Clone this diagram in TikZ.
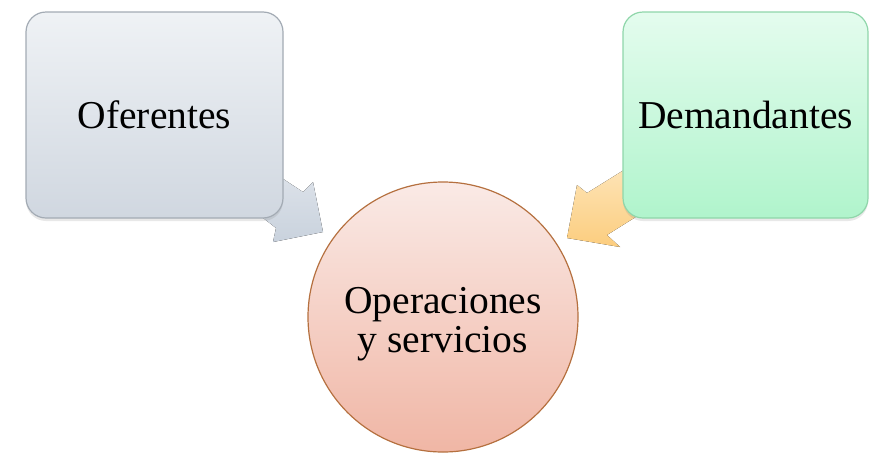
\documentclass[tikz,border=0pt]{standalone}
\usepackage{fontspec}
\setmainfont{Liberation Serif}
\usetikzlibrary{shadows}
\definecolor{grayTop}{HTML}{EFF2F5}
\definecolor{grayBot}{HTML}{D0D7E0}
\definecolor{grayLine}{HTML}{A3ABB4}
\definecolor{greenTop}{HTML}{E4FCEE}
\definecolor{greenBot}{HTML}{B0F4CC}
\definecolor{greenLine}{HTML}{8FD6AA}
\definecolor{pinkTop}{HTML}{FAEAE6}
\definecolor{pinkBot}{HTML}{F0B6A5}
\definecolor{pinkLine}{HTML}{B5703F}
\definecolor{arrGrayTop}{HTML}{DFE4EB}
\definecolor{arrGrayBot}{HTML}{C9D2DD}
\definecolor{arrYelTop}{HTML}{FDE6BC}
\definecolor{arrYelBot}{HTML}{FCCD7E}
\tikzset{
  txt/.style={font=\fontsize{39.5}{39}\selectfont, text=black},
  roundbox/.style={txt, rounded corners=20pt, line width=1.2pt, inner sep=0pt,
    drop shadow={opacity=0.18, shadow xshift=0pt, shadow yshift=-3pt}},
}
\begin{document}
\begin{tikzpicture}[x=1pt,y=-1pt]
\useasboundingbox (0,0) rectangle (869,453);
% arrows (behind)
\fill[top color=arrGrayTop, bottom color=arrGrayBot]
  (262,165) -- (303,192) -- (313,182) -- (323,232) -- (273,242) -- (276,228) -- (240,200) -- cycle;
\fill[top color=arrYelTop, bottom color=arrYelBot]
  (640,160) -- (587,193) -- (577,185) -- (567,238) -- (620,247) -- (607,235) -- (650,208) -- cycle;
% boxes
\node[roundbox, draw=grayLine, top color=grayTop, bottom color=grayBot,
  minimum width=257pt, minimum height=206pt] (ofe) at (154.5,115) {Oferentes};
\node[roundbox, draw=greenLine, top color=greenTop, bottom color=greenBot,
  minimum width=245pt, minimum height=206pt] (dem) at (745.5,115) {Demandantes};
% circle
\node[circle, draw=pinkLine, line width=1.2pt, top color=pinkTop, bottom color=pinkBot,
  minimum size=270pt, inner sep=0pt] (ops) at (443,317) {};
\node[txt, align=center, inner sep=0pt] (opstxt) at ([yshift=-7pt]ops.center) {Operaciones\\y servicios};
\end{tikzpicture}
\end{document}
